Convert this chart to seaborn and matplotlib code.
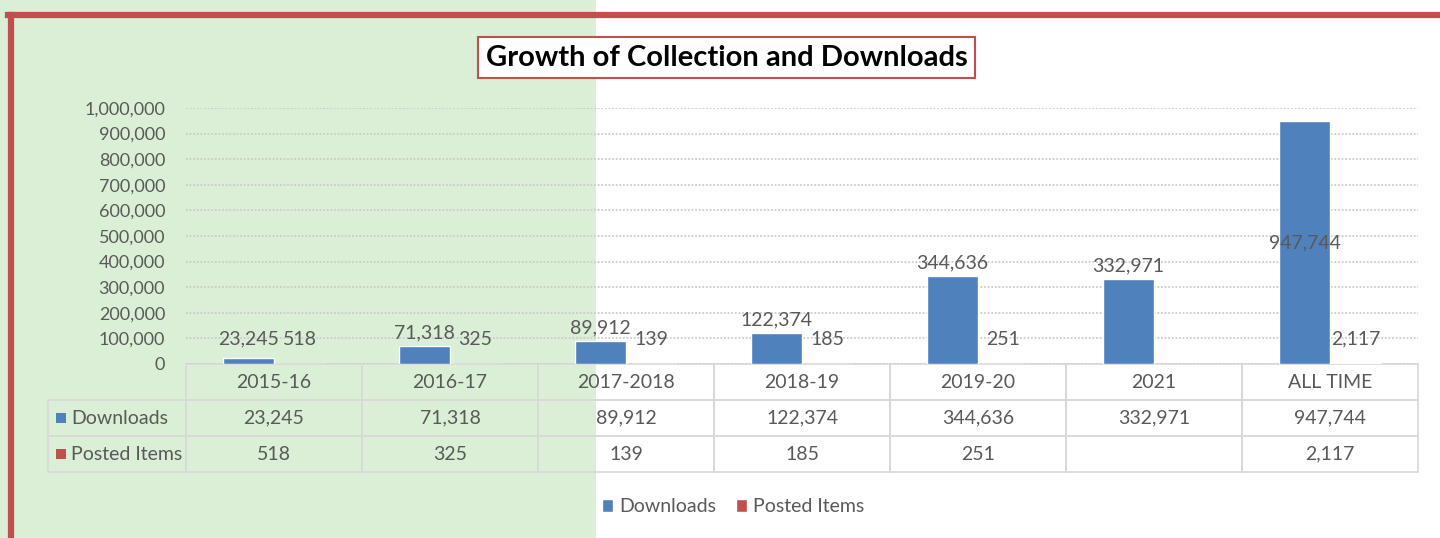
import numpy as np
import pandas as pd
import matplotlib
matplotlib.use("Agg")
import matplotlib.pyplot as plt
from matplotlib.patches import Rectangle, Patch
from matplotlib.lines import Line2D
from matplotlib.table import Table
from matplotlib.ticker import FuncFormatter
import seaborn as sns

# data
periods = ["2015-16", "2016-17", "2017-2018", "2018-19", "2019-20", "2021", "ALL TIME"]
downloads = [23245, 71318, 89912, 122374, 344636, 332971, 947744]
posted_items = [518, 325, 139, 185, 251, np.nan, 2117]
series = ["Downloads", "Posted Items"]

BLUE = "#4F81BD"
RED = "#C0504D"
GREY = "#595959"
LINE = "#D9D9D9"

sns.set_style("white")
plt.rcParams["font.family"] = ["Lato", "DejaVu Sans"]

df = pd.DataFrame({
    "period": periods * 2,
    "series": [series[0]] * len(periods) + [series[1]] * len(periods),
    "value": downloads + posted_items,
})

fig = plt.figure(figsize=(14.4, 5.38), dpi=100)
fig.patch.set_facecolor("white")
# green panel on the left + red frame
fig.patches.append(Rectangle((0, 0), 596 / 1440, 1, transform=fig.transFigure,
                             facecolor="#DAEFD6", edgecolor="none", zorder=-2))
fig.lines.append(Line2D([8 / 1440, 1], [1 - 15 / 538] * 2, transform=fig.transFigure,
                        color=RED, lw=4.5, solid_capstyle="projecting", zorder=-1))
fig.lines.append(Line2D([10.5 / 1440] * 2, [0, 1 - 15 / 538], transform=fig.transFigure,
                        color=RED, lw=4.5, solid_capstyle="projecting", zorder=-1))

ax = fig.add_axes([186 / 1440, 1 - 364 / 538, 1232 / 1440, 256 / 538])
ax.set_facecolor("none")

sns.barplot(data=df, x="period", y="value", hue="series", order=periods,
            hue_order=series, palette=[BLUE, RED], width=0.58, saturation=1,
            legend=False, ax=ax)

ax.set_ylim(0, 1_000_000)
ax.set_yticks(np.arange(0, 1_000_001, 100_000))
ax.yaxis.set_major_formatter(FuncFormatter(lambda v, p: f"{v:,.0f}"))
ax.tick_params(axis="y", length=0, labelsize=13, labelcolor=GREY, pad=15)
ax.tick_params(axis="x", length=0, labelbottom=False)
ax.set_xlabel("")
ax.set_ylabel("")
ax.grid(axis="y", color="#CCCCCC", lw=1.3, ls=(0, (1, 1)))
ax.set_axisbelow(True)
sns.despine(ax=ax, left=True, bottom=True)

# data labels
floor = 47_000
for cont in ax.containers:
    for bar in cont:
        h = bar.get_height()
        if np.isnan(h):
            continue
        xc = bar.get_x() + bar.get_width() / 2
        if h > 0.9 * ax.get_ylim()[1]:
            ax.text(xc, h / 2, f"{h:,.0f}", ha="center", va="center",
                    fontsize=14, color=GREY)
        else:
            ax.annotate(f"{h:,.0f}", (xc, max(h, floor)), xytext=(0, 3),
                        textcoords="offset points", ha="center", va="bottom",
                        fontsize=14, color=GREY)

# data table under the plot (bbox covers the data grid, row labels sit left of it)
cell_text = [[f"{v:,.0f}" for v in downloads],
             ["" if np.isnan(v) else f"{v:,.0f}" for v in posted_items]]
tbl = Table(ax, bbox=[0, -108 / 256, 1, 108 / 256])
cw = 1 / 7
for j, p in enumerate(periods):
    tbl.add_cell(0, j, width=cw, height=1, text=p, loc="center", facecolor="none")
for i, name in enumerate(series):
    c = tbl.add_cell(i + 1, -1, width=138 / 1232, height=1, text=name, loc="left",
                     facecolor="none")
    c.PAD = 0.17
    for j in range(len(periods)):
        tbl.add_cell(i + 1, j, width=cw, height=1, text=cell_text[i][j], loc="center",
                     facecolor="none")
tbl.auto_set_font_size(False)
tbl.set_fontsize(14)
for cell in tbl.get_celld().values():
    cell.set_edgecolor(LINE)
    cell.set_linewidth(1.2)
    cell.get_text().set_color(GREY)
ax.add_table(tbl)

# legend keys inside row labels
for i, col in enumerate([BLUE, RED]):
    yc = (364 - (418 + 36 * i)) / 256
    ax.add_patch(Rectangle((-130 / 1232, yc - 5 / 256), 10 / 1232, 10 / 256,
                           transform=ax.transAxes, facecolor=col, edgecolor="none",
                           clip_on=False))

fig.text(726.5 / 1440, 1 - 57.5 / 538, "Growth of Collection and Downloads",
         ha="center", va="center", fontsize=21, fontweight="bold", color="black",
         bbox=dict(boxstyle="square,pad=0.25", facecolor="white", edgecolor=RED, lw=1.5))

handles = [Patch(facecolor=BLUE, label=series[0]), Patch(facecolor=RED, label=series[1])]
fig.legend(handles=handles, loc="center", bbox_to_anchor=(733 / 1440, 1 - 507 / 538),
           ncol=2, frameon=False, fontsize=14, handlelength=0.6, handleheight=0.6,
           handletextpad=0.3, columnspacing=1.0, labelcolor=GREY)

fig.savefig("out.png", dpi=100)
